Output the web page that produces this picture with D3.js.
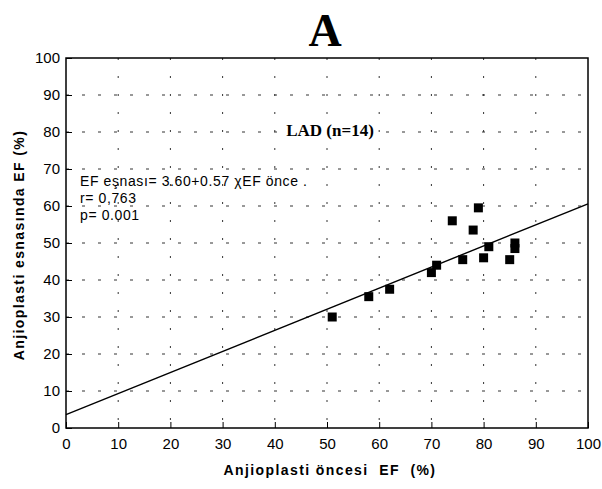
<!DOCTYPE html>
<html><head><meta charset="utf-8">
<script src="https://cdn.jsdelivr.net/npm/d3@7"></script>
<style>body{margin:0;background:#fff}svg{display:block}</style>
</head><body>
<svg id="c" width="602" height="489"></svg>
<script>
const preEF = [51, 58, 62, 70, 71, 74, 76, 78, 79, 80, 81, 85, 86, 86];
const duringEF = [30, 35.5, 37.5, 42, 44, 56, 45.5, 53.5, 59.5, 46, 49, 45.5, 50, 48.5];
const xTicks = [0,10,20,30,40,50,60,70,80,90,100];
const yTicks = [0,10,20,30,40,50,60,70,80,90,100];
const intercept = 3.60, slope = 0.57;
const annotation = ["EF eşnası= 3.60+0.57 χEF önce .", "r= 0,763", "p= 0.001"];

const svg = d3.select("#c");
const m = {l:66, r:588, t:58, b:428};
const x = d3.scaleLinear().domain([0,100]).range([m.l, m.r]);
const y = d3.scaleLinear().domain([0,100]).range([m.b, m.t]);

// grid
const g = svg.append("g");
g.selectAll(".gx").data(xTicks.slice(1,-1)).join("line")
  .attr("x1", d=>x(d)).attr("x2", d=>x(d)).attr("y1", m.t).attr("y2", m.b)
  .attr("stroke","#333").attr("stroke-width",1).attr("stroke-dasharray","2,16");
g.selectAll(".gy").data(yTicks.slice(1,-1)).join("line")
  .attr("y1", d=>y(d)).attr("y2", d=>y(d)).attr("x1", m.l).attr("x2", m.r)
  .attr("stroke","#333").attr("stroke-width",1).attr("stroke-dasharray","3,13");

// frame
svg.append("rect").attr("x",m.l).attr("y",m.t).attr("width",m.r-m.l).attr("height",m.b-m.t)
  .attr("fill","none").attr("stroke","#000").attr("stroke-width",1.5);

// axes
const xa = svg.append("g").attr("transform",`translate(0,${m.b})`)
  .call(d3.axisBottom(x).tickValues(xTicks).tickSize(-6).tickPadding(10).tickFormat(d3.format("d")));
const ya = svg.append("g").attr("transform",`translate(${m.l},0)`)
  .call(d3.axisLeft(y).tickValues(yTicks).tickSize(-6).tickPadding(6).tickFormat(d3.format("d")));
[xa,ya].forEach(a=>{
  a.select(".domain").remove();
  a.selectAll("text").attr("font-family","Liberation Sans, Arial, sans-serif").attr("font-size",15).attr("fill","#000");
  a.selectAll("line").attr("stroke","#000");
});

// regression line
svg.append("line").attr("x1",x(0)).attr("y1",y(intercept)).attr("x2",x(100)).attr("y2",y(intercept+slope*100))
  .attr("stroke","#000").attr("stroke-width",1.4);

// points
const s = 9;
svg.selectAll(".pt").data(preEF.map((v,i)=>[v,duringEF[i]])).join("rect")
  .attr("x",d=>x(d[0])-s/2).attr("y",d=>y(d[1])-s/2).attr("width",s).attr("height",s).attr("fill","#000");

// texts
svg.append("text").attr("x",325).attr("y",46).attr("text-anchor","middle")
  .attr("font-family","Liberation Serif, Times New Roman, serif").attr("font-weight","bold").attr("font-size",46).text("A");
svg.append("rect").attr("x",285).attr("y",122).attr("width",92).attr("height",18).attr("fill","#fff");
svg.append("text").attr("x",330).attr("y",136).attr("text-anchor","middle")
  .attr("font-family","Liberation Serif, Times New Roman, serif").attr("font-weight","bold").attr("font-size",17).text("LAD (n=14)");
svg.selectAll(".ann").data(annotation).join("text")
  .attr("x",80).attr("y",(d,i)=>186+i*17)
  .attr("font-family","Liberation Sans, Arial, sans-serif").attr("font-size",14).attr("letter-spacing",0.6).text(d=>d);
svg.append("text").attr("x",330).attr("y",475).attr("text-anchor","middle")
  .attr("font-family","Liberation Sans, Arial, sans-serif").attr("font-weight","bold").attr("font-size",14)
  .attr("letter-spacing",1.4).attr("xml:space","preserve").text("Anjioplasti öncesi  EF  (%)");
svg.append("text").attr("transform","translate(24,245) rotate(-90)").attr("text-anchor","middle")
  .attr("font-family","Liberation Sans, Arial, sans-serif").attr("font-weight","bold").attr("font-size",14)
  .attr("letter-spacing",1.4).text("Anjioplasti esnasında EF (%)");
</script>
</body></html>
